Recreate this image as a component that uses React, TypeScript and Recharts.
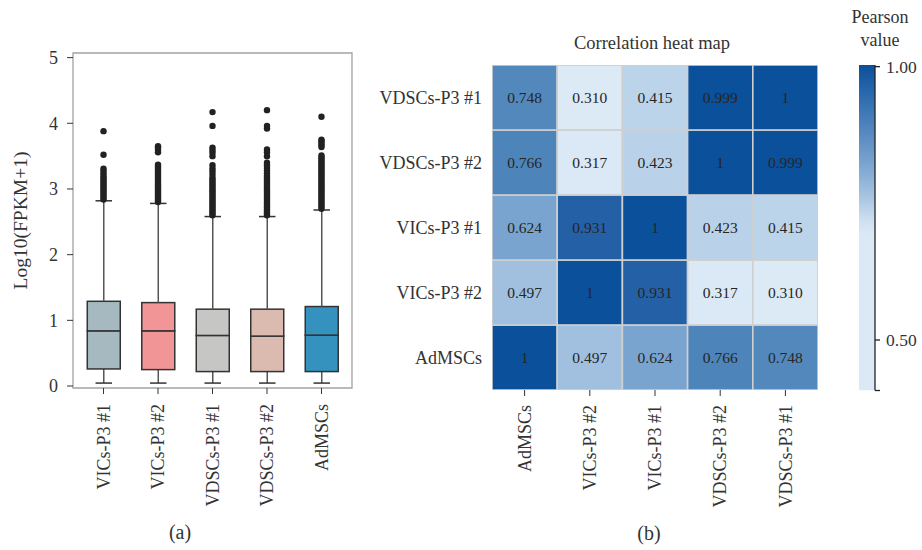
import React from "react";
import {
  ComposedChart,
  ScatterChart,
  BarChart,
  Bar,
  Scatter,
  XAxis,
  YAxis,
  Cell,
  Label,
  ReferenceArea,
} from "recharts";

const FONT = "'Liberation Serif', 'DejaVu Serif', Times, serif";
const TXT = "#333";
const TICK_FS = 18;

// ---- (a) box plot data ----
const groups = ["VICs-P3 #1", "VICs-P3 #2", "VDSCs-P3 #1", "VDSCs-P3 #2", "AdMSCs"];
const boxColors = ["#a6b9c0", "#f29597", "#c6c6c5", "#dbbbb0", "#3592be"];
const whiskerLow = [0.045, 0.045, 0.045, 0.045, 0.045];
const q1 = [0.26, 0.25, 0.22, 0.22, 0.22];
const median = [0.84, 0.84, 0.77, 0.76, 0.775];
const q3 = [1.29, 1.27, 1.17, 1.17, 1.21];
const whiskerHigh = [2.82, 2.78, 2.58, 2.58, 2.68];
const yTicks = [0, 1, 2, 3, 4, 5];

const outliers1 = [2.84, 2.87, 2.9, 2.93, 2.96, 2.99, 3.02, 3.05, 3.08, 3.11, 3.14, 3.17, 3.2, 3.24, 3.28, 3.31, 3.52, 3.88];
const outliers2 = [2.8, 2.83, 2.86, 2.89, 2.92, 2.95, 2.98, 3.01, 3.04, 3.07, 3.1, 3.13, 3.16, 3.19, 3.22, 3.25, 3.28, 3.31, 3.34, 3.37, 3.56, 3.6, 3.63, 3.65];
const outliers3 = [2.6, 2.63, 2.66, 2.69, 2.72, 2.75, 2.78, 2.81, 2.84, 2.87, 2.9, 2.93, 2.96, 2.99, 3.02, 3.05, 3.08, 3.11, 3.14, 3.17, 3.22, 3.27, 3.31, 3.36, 3.5, 3.55, 3.59, 3.63, 3.96, 4.17];
const outliers4 = [2.6, 2.63, 2.66, 2.69, 2.72, 2.75, 2.78, 2.81, 2.84, 2.87, 2.9, 2.93, 2.96, 2.99, 3.02, 3.05, 3.08, 3.11, 3.14, 3.17, 3.2, 3.24, 3.28, 3.32, 3.36, 3.4, 3.5, 3.56, 3.6, 3.92, 3.96, 4.2];
const outliers5 = [2.7, 2.73, 2.76, 2.79, 2.82, 2.85, 2.88, 2.91, 2.94, 2.97, 3.0, 3.03, 3.06, 3.09, 3.12, 3.15, 3.18, 3.21, 3.24, 3.27, 3.3, 3.33, 3.36, 3.39, 3.42, 3.45, 3.48, 3.51, 3.64, 3.67, 3.7, 3.73, 3.75, 4.1];
const outliers = [outliers1, outliers2, outliers3, outliers4, outliers5];

// ---- (b) heat map data ----
// columns left -> right, rows bottom -> top
const hmLabels = ["AdMSCs", "VICs-P3 #2", "VICs-P3 #1", "VDSCs-P3 #2", "VDSCs-P3 #1"];
const corrAdMSCs = [1, 0.497, 0.624, 0.766, 0.748];
const corrVICs2 = [0.497, 1, 0.931, 0.317, 0.31];
const corrVICs1 = [0.624, 0.931, 1, 0.423, 0.415];
const corrVDSCs2 = [0.766, 0.317, 0.423, 1, 0.999];
const corrVDSCs1 = [0.748, 0.31, 0.415, 0.999, 1];
const corrRows = [corrAdMSCs, corrVICs2, corrVICs1, corrVDSCs2, corrVDSCs1];

// colormap used for cells
const cmap: [number, string][] = [
  [0.31, "#dceaf6"],
  [0.42, "#bad3e9"],
  [0.5, "#a0bfdf"],
  [0.62, "#7aa5d0"],
  [0.76, "#4f85bb"],
  [0.93, "#2460a6"],
  [1.0, "#0b509b"],
];

// colorbar
const cbarRange: [number, number] = [0.4076, 1.003];
const cbarTicks = [0.4076, 0.5, 1.0];

function hex(c: string) {
  return [1, 3, 5].map((i) => parseInt(c.slice(i, i + 2), 16));
}
function colorFor(v: number) {
  if (v <= cmap[0][0]) return cmap[0][1];
  for (let i = 1; i < cmap.length; i++) {
    if (v <= cmap[i][0]) {
      const [a, ca] = cmap[i - 1];
      const [b, cb] = cmap[i];
      const t = (v - a) / (b - a);
      const A = hex(ca);
      const B = hex(cb);
      const m = A.map((x, k) => Math.round(x + (B[k] - x) * t));
      return `rgb(${m[0]},${m[1]},${m[2]})`;
    }
  }
  return cmap[cmap.length - 1][1];
}

// ---- box plot shapes ----
const LowWhisker = (p: any) => {
  const { x, y, width, height } = p;
  const cx = x + width / 2;
  return (
    <g>
      <line x1={cx} x2={cx} y1={y} y2={y + height} stroke="#555" strokeWidth={1.5} />
      <line x1={cx - width / 4} x2={cx + width / 4} y1={y + height} y2={y + height} stroke="#333" strokeWidth={1.5} />
    </g>
  );
};
const HighWhisker = (p: any) => {
  const { x, y, width, height } = p;
  const cx = x + width / 2;
  return (
    <g>
      <line x1={cx} x2={cx} y1={y} y2={y + height} stroke="#555" strokeWidth={1.5} />
      <line x1={cx - width / 4} x2={cx + width / 4} y1={y} y2={y} stroke="#333" strokeWidth={1.5} />
    </g>
  );
};
const BoxPart = (p: any) => (
  <rect x={p.x} y={p.y} width={p.width} height={p.height} fill={p.fill} stroke="#333" strokeWidth={1.5} />
);
const OutlierDot = (p: any) => <circle cx={p.cx} cy={p.cy} r={3.2} fill="#222" />;

const makeVTick = (labels: string[]) => (p: any) => (
  <text
    x={p.x}
    y={p.y}
    transform={`rotate(-90, ${p.x}, ${p.y})`}
    textAnchor="end"
    dy="0.34em"
    fontSize={TICK_FS}
    fill={TXT}
    fontFamily={FONT}
  >
    {labels[p.payload.value]}
  </text>
);

function BoxPlot() {
  const data = groups.map((g, i) => ({
    x: i,
    name: g,
    base: whiskerLow[i],
    wLo: q1[i] - whiskerLow[i],
    bLo: median[i] - q1[i],
    bHi: q3[i] - median[i],
    wHi: whiskerHigh[i] - q3[i],
  }));
  const outlierData = outliers.flatMap((vals, i) => vals.map((v) => ({ x: i, y: v })));

  return (
    <ComposedChart width={370} height={550} data={data} margin={{ top: 53, right: 18, bottom: 0, left: 0 }}>
      <XAxis
        type="number"
        dataKey="x"
        domain={[-0.56, 4.56]}
        ticks={[0, 1, 2, 3, 4]}
        allowDataOverflow
        height={162}
        axisLine={false}
        tickSize={6}
        tickMargin={10}
        tickLine={{ stroke: "#333" }}
        tick={makeVTick(groups)}
      />
      <YAxis
        type="number"
        domain={[-0.03, 5.07]}
        ticks={yTicks}
        allowDataOverflow
        width={73}
        axisLine={false}
        tickSize={6}
        tickMargin={9}
        tickLine={{ stroke: "#333" }}
        tick={{ fontSize: TICK_FS, fill: TXT, fontFamily: FONT }}
      >
        <Label
          value="Log10(FPKM+1)"
          angle={-90}
          position="insideLeft"
          offset={20}
          style={{ textAnchor: "middle", fontSize: 19.5, fill: TXT, fontFamily: FONT }}
        />
      </YAxis>
      <ReferenceArea x1={-0.56} x2={4.56} y1={-0.03} y2={5.07} fill="none" stroke="#a3a3a3" strokeWidth={1.3} />
      <Bar dataKey="base" stackId="b" barSize={33} fill="transparent" isAnimationActive={false} />
      <Bar dataKey="wLo" stackId="b" barSize={33} shape={LowWhisker} isAnimationActive={false} />
      <Bar dataKey="bLo" stackId="b" barSize={33} shape={BoxPart} isAnimationActive={false}>
        {data.map((d, i) => (
          <Cell key={d.name} fill={boxColors[i]} />
        ))}
      </Bar>
      <Bar dataKey="bHi" stackId="b" barSize={33} shape={BoxPart} isAnimationActive={false}>
        {data.map((d, i) => (
          <Cell key={d.name} fill={boxColors[i]} />
        ))}
      </Bar>
      <Bar dataKey="wHi" stackId="b" barSize={33} shape={HighWhisker} isAnimationActive={false} />
      <Scatter data={outlierData} dataKey="y" shape={OutlierDot} isAnimationActive={false} />
    </ComposedChart>
  );
}

// ---- heat map ----
const HM_W = 326;
const HM_H = 325;

const HeatCell = (p: any) => {
  const { cx, cy, payload } = p;
  const w = HM_W / 5;
  const h = HM_H / 5;
  const v: number = payload.v;
  return (
    <g>
      <rect x={cx - w / 2} y={cy - h / 2} width={w} height={h} fill={colorFor(v)} stroke="#cfcfcf" strokeWidth={1.6} />
      <text x={cx} y={cy} dy="0.35em" textAnchor="middle" fontSize={15.5} fill="#262626" fontFamily={FONT}>
        {v === 1 ? "1" : v.toFixed(3)}
      </text>
    </g>
  );
};

function HeatMap() {
  const cells = corrRows.flatMap((row, r) => row.map((v, c) => ({ x: c, y: r, v })));
  return (
    <ScatterChart width={480} height={550} margin={{ top: 65, right: 32, bottom: 0, left: 0 }}>
      <XAxis
        type="number"
        dataKey="x"
        domain={[-0.5, 4.5]}
        ticks={[0, 1, 2, 3, 4]}
        allowDataOverflow
        height={160}
        axisLine={false}
        tickSize={6}
        tickMargin={9}
        tickLine={{ stroke: "#333" }}
        tick={makeVTick(hmLabels)}
      />
      <YAxis
        type="number"
        dataKey="y"
        domain={[-0.5, 4.5]}
        ticks={[0, 1, 2, 3, 4]}
        allowDataOverflow
        width={122}
        axisLine={false}
        tickLine={false}
        tickSize={0}
        tickMargin={10}
        tickFormatter={(i: number) => hmLabels[i]}
        tick={{ fontSize: TICK_FS, fill: TXT, fontFamily: FONT }}
      />
      <Scatter data={cells} shape={HeatCell} isAnimationActive={false} />
    </ScatterChart>
  );
}

// ---- colorbar ----
function ColorBar() {
  return (
    <BarChart
      width={72}
      height={550}
      data={[{ name: "cbar", range: cbarRange }]}
      margin={{ top: 65, right: 0, bottom: 159.5, left: 9 }}
      barCategoryGap={0}
    >
      <defs>
        <linearGradient id="cbarGrad" x1="0" y1="0" x2="0" y2="1">
          <stop offset="0" stopColor="#0b4f9b" />
          <stop offset="0.12" stopColor="#3572b2" />
          <stop offset="0.22" stopColor="#5b8cc2" />
          <stop offset="0.33" stopColor="#85acd4" />
          <stop offset="0.41" stopColor="#aac6e3" />
          <stop offset="0.48" stopColor="#cfe0f1" />
          <stop offset="0.52" stopColor="#dbe9f6" />
          <stop offset="1" stopColor="#dbe9f6" />
        </linearGradient>
      </defs>
      <XAxis dataKey="name" hide />
      <YAxis
        orientation="right"
        type="number"
        domain={cbarRange}
        ticks={cbarTicks}
        allowDataOverflow
        width={47}
        axisLine={{ stroke: "#222", strokeWidth: 1.3 }}
        tickLine={{ stroke: "#222", strokeWidth: 1.3 }}
        tickSize={5}
        tickMargin={6}
        tickFormatter={(v: number) => (v === 1 ? "1.00" : v === 0.5 ? "0.50" : "")}
        tick={{ fontSize: 17.5, fill: TXT, fontFamily: FONT }}
      />
      <Bar dataKey="range" fill="url(#cbarGrad)" isAnimationActive={false} />
    </BarChart>
  );
}

const caption = (text: string, cx: number, top: number, fs: number, lh = 22) => (
  <div
    style={{
      position: "absolute",
      left: cx - 100,
      top,
      width: 200,
      textAlign: "center",
      fontSize: fs,
      lineHeight: `${lh}px`,
      color: TXT,
      fontFamily: FONT,
      whiteSpace: "pre",
    }}
  >
    {text}
  </div>
);

export default function App() {
  return (
    <div style={{ position: "absolute", left: 0, top: 0, width: 922, height: 550, background: "#fff", fontFamily: FONT }}>
      <div style={{ position: "absolute", left: 0, top: 0 }}>
        <BoxPlot />
      </div>
      <div style={{ position: "absolute", left: 370, top: 0 }}>
        <HeatMap />
      </div>
      <div style={{ position: "absolute", left: 850, top: 0 }}>
        <ColorBar />
      </div>
      {caption("Correlation heat map", 652, 32, 18.5)}
      {caption("Pearson\nvalue", 880, 6, 18, 23)}
      {caption("(a)", 180, 521, 20)}
      {caption("(b)", 649, 522, 20)}
    </div>
  );
}
